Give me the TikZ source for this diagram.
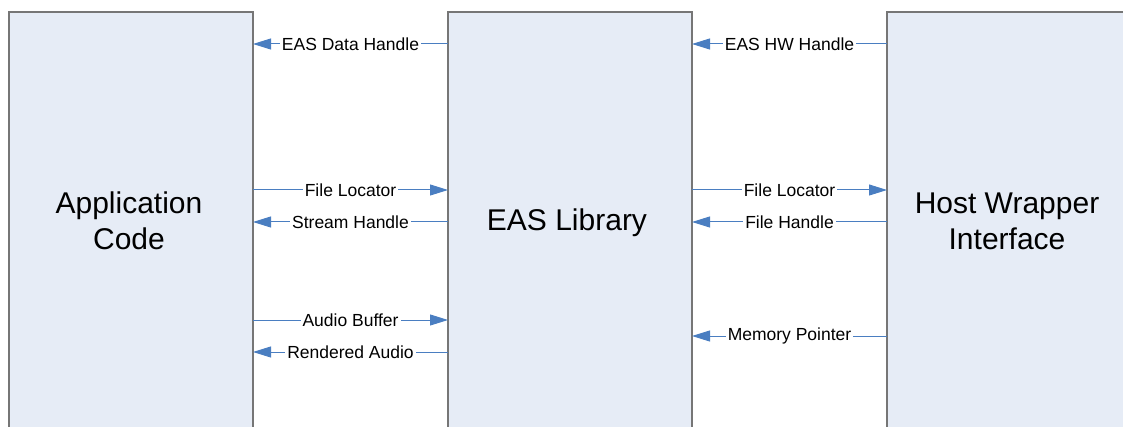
\documentclass[tikz,border=0pt]{standalone}
\usepackage{fontspec}
\setmainfont{Liberation Sans}
\usetikzlibrary{arrows.meta}
\definecolor{boxfill}{RGB}{230,236,246}
\definecolor{boxline}{RGB}{118,118,118}
\definecolor{arrowblue}{RGB}{74,126,193}
\begin{document}
\begin{tikzpicture}[x=1pt,y=-1pt,
  blk/.style={draw=boxline,line width=1.5pt,fill=boxfill,minimum width=244pt,minimum height=440pt,anchor=north west,inner sep=0pt,outer sep=0pt},
  big/.style={font=\fontsize{30}{36}\selectfont,align=center,inner sep=0pt},
  flow/.style={draw=arrowblue,line width=1pt,-{Triangle[length=18pt,width=11pt]}},
  lbl/.style={fill=white,inner sep=2pt,font=\fontsize{17.5}{20}\selectfont}
]
\useasboundingbox (0,0) rectangle (1123,427);
\node[blk] (app) at (9,12) {};
\node[blk] (lib) at (448,12) {};
\node[blk] (host) at (887,12) {};
\node[big] (apptxt) at (129,221) {Application\\Code};
\node[big] (libtxt) at (567,223) {EAS Library};
\node[big] (hosttxt) at (1007,221) {Host Wrapper\\Interface};
% left gap
\draw[flow] (lib.west |- 0,44) -- node[lbl] (l1) {EAS Data Handle} (app.east |- 0,44);
\draw[flow] (app.east |- 0,190) -- node[lbl] (l2) {File Locator} (lib.west |- 0,190);
\draw[flow] (lib.west |- 0,222) -- node[lbl] (l3) {Stream Handle} (app.east |- 0,222);
\draw[flow] (app.east |- 0,320) -- node[lbl] (l4) {Audio Buffer} (lib.west |- 0,320);
\draw[flow] (lib.west |- 0,352) -- node[lbl] (l5) {Rendered Audio} (app.east |- 0,352);
% right gap
\draw[flow] (host.west |- 0,44) -- node[lbl] (r1) {EAS HW Handle} (lib.east |- 0,44);
\draw[flow] (lib.east |- 0,190) -- node[lbl] (r2) {File Locator} (host.west |- 0,190);
\draw[flow] (host.west |- 0,222) -- node[lbl] (r3) {File Handle} (lib.east |- 0,222);
\draw[flow] (host.west |- 0,336) -- node[lbl] (r4) {Memory Pointer} (lib.east |- 0,336);
\end{tikzpicture}
\end{document}
